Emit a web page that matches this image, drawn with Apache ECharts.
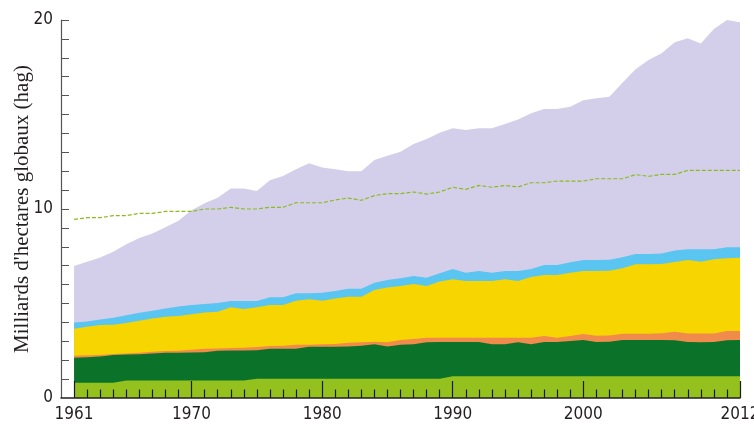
<!DOCTYPE html>
<html>
<head>
<meta charset="utf-8">
<script src="https://cdn.jsdelivr.net/npm/echarts@6/dist/echarts.min.js"></script>
<style>
  html, body { margin: 0; background: #fff; }
  #chart { width: 754px; height: 424px; }
</style>
</head>
<body>
<div id="chart"></div>
<script>
// années
const years = [1961,1962,1963,1964,1965,1966,1967,1968,1969,1970,
  1971,1972,1973,1974,1975,1976,1977,1978,1979,1980,
  1981,1982,1983,1984,1985,1986,1987,1988,1989,1990,
  1991,1992,1993,1994,1995,1996,1997,1998,1999,2000,
  2001,2002,2003,2004,2005,2006,2007,2008,2009,2010,
  2011,2012];

// bords supérieurs des couches (cumulés)
const vertClair = [0.81,0.81,0.81,0.81,0.92,0.92,0.92,0.92,0.92,0.92,
  0.92,0.92,0.92,0.92,1.02,1.02,1.02,1.02,1.02,1.02,
  1.02,1.02,1.02,1.02,1.02,1.02,1.02,1.02,1.02,1.15,
  1.15,1.15,1.15,1.15,1.15,1.15,1.15,1.15,1.15,1.15,
  1.15,1.15,1.15,1.15,1.15,1.15,1.15,1.15,1.15,1.15,
  1.15,1.15];
const vertFonce = [2.13,2.15,2.19,2.28,2.30,2.32,2.36,2.40,2.40,2.41,
  2.42,2.50,2.51,2.51,2.52,2.61,2.61,2.61,2.71,2.71,
  2.71,2.73,2.77,2.84,2.72,2.82,2.84,2.95,2.96,2.96,
  2.96,2.96,2.84,2.85,2.95,2.84,2.96,2.96,3.02,3.07,
  2.96,2.97,3.07,3.07,3.07,3.07,3.06,2.96,2.95,2.96,
  3.05,3.07];
const orange = [2.24,2.26,2.28,2.33,2.36,2.40,2.45,2.49,2.50,2.55,
  2.61,2.62,2.64,2.66,2.70,2.75,2.77,2.82,2.82,2.84,
  2.86,2.92,2.95,2.98,2.95,3.07,3.12,3.19,3.19,3.19,
  3.19,3.19,3.19,3.19,3.19,3.19,3.28,3.19,3.28,3.39,
  3.30,3.31,3.40,3.40,3.40,3.42,3.51,3.41,3.41,3.41,
  3.54,3.55];
const jaune = [3.67,3.77,3.86,3.88,3.97,4.09,4.20,4.30,4.34,4.43,
  4.53,4.57,4.80,4.71,4.80,4.92,4.92,5.15,5.22,5.15,
  5.27,5.36,5.36,5.71,5.84,5.93,6.03,5.93,6.16,6.28,
  6.19,6.19,6.19,6.28,6.19,6.40,6.51,6.51,6.63,6.72,
  6.72,6.73,6.86,7.08,7.08,7.09,7.20,7.30,7.21,7.34,
  7.40,7.42];
const bleu = [3.99,4.05,4.16,4.25,4.38,4.51,4.61,4.73,4.84,4.92,
  4.98,5.02,5.13,5.13,5.13,5.33,5.33,5.54,5.54,5.57,
  5.66,5.78,5.78,6.10,6.24,6.33,6.45,6.36,6.60,6.82,
  6.63,6.72,6.63,6.72,6.72,6.82,7.04,7.04,7.18,7.30,
  7.30,7.32,7.45,7.62,7.62,7.64,7.80,7.87,7.87,7.87,
  7.97,7.98];
const total = [6.98,7.21,7.44,7.74,8.13,8.47,8.71,9.03,9.38,9.93,
  10.30,10.60,11.08,11.08,10.95,11.52,11.75,12.10,12.42,12.20,
  12.10,12.00,12.00,12.59,12.82,13.03,13.44,13.70,14.04,14.27,
  14.18,14.27,14.27,14.50,14.73,15.06,15.29,15.29,15.41,15.75,
  15.86,15.94,16.68,17.39,17.88,18.24,18.82,19.03,18.76,19.52,
  20.00,19.88];
const biocapacite = [9.45,9.54,9.54,9.65,9.65,9.77,9.77,9.87,9.87,9.87,
  10.00,10.00,10.09,10.00,10.00,10.09,10.09,10.33,10.33,10.33,
  10.48,10.58,10.46,10.71,10.81,10.81,10.90,10.79,10.90,11.15,
  11.04,11.25,11.15,11.24,11.17,11.39,11.39,11.48,11.48,11.48,
  11.60,11.60,11.60,11.82,11.73,11.83,11.83,12.04,12.04,12.04,
  12.04,12.04];

const etiquettesX = [1961, 1970, 1980, 1990, 2000, 2012];
const etiquettesY = [0, 10, 20];

const police = "'Liberation Sans Narrow', 'DejaVu Sans Condensed', sans-serif";

function paires(vals) {
  return years.map((y, i) => [y, vals[i]]);
}

function couche(nom, vals, couleur) {
  return {
    name: nom,
    type: 'line',
    data: paires(vals),
    symbol: 'none',
    z: 1,
    lineStyle: { width: 0 },
    areaStyle: { color: couleur, opacity: 1 },
    silent: true
  };
}

// traits de graduation annuels, dessinés par-dessus la couche vert clair
const hautPetit = 0.45, hautGrand = 0.9;
const graduations = years.map(y => {
  const h = etiquettesX.includes(y) ? hautGrand : hautPetit;
  return [{ coord: [y, 0] }, { coord: [y, h] }];
});

const vertClairSerie = couche('Vert clair', vertClair, '#95c11f');
vertClairSerie.markLine = {
  silent: true,
  animation: false,
  symbol: ['none', 'none'],
  label: { show: false },
  lineStyle: { color: '#1a1a1a', width: 1.2, type: 'solid', opacity: 1 },
  emphasis: { disabled: true },
  data: graduations
};

const chart = echarts.init(document.getElementById('chart'));

chart.setOption({
  animation: false,
  backgroundColor: '#ffffff',
  grid: { left: 61, right: 14, top: 20, bottom: 26, containLabel: false, outerBoundsMode: 'none' },
  xAxis: {
    type: 'value',
    min: 1960, max: 2012, interval: 1,
    z: 10,
    axisLine: { show: true, onZero: false, lineStyle: { color: '#231f20', width: 1.5 } },
    axisTick: { show: false },
    axisLabel: {
      customValues: etiquettesX,
      formatter: v => String(v),
      color: '#231f20',
      fontFamily: police,
      fontSize: 17,
      margin: 8
    },
    splitLine: { show: false }
  },
  yAxis: {
    type: 'value',
    min: 0, max: 20, interval: 1,
    name: "Milliards d'hectares globaux (hag)",
    nameLocation: 'middle',
    nameGap: 28,
    nameMoveOverlap: false,
    nameTextStyle: { fontFamily: "'Liberation Serif', 'DejaVu Serif', serif", fontSize: 21, color: '#231f20' },
    z: 10,
    axisLine: { show: true, onZero: false, lineStyle: { color: '#555555', width: 1.2 } },
    axisTick: { show: true, inside: true, length: 8, lineStyle: { color: '#555555' } },
    axisLabel: {
      formatter: v => (etiquettesY.includes(v) ? String(v) : ''),
      color: '#231f20',
      fontFamily: police,
      fontSize: 17,
      margin: 8
    },
    splitLine: { show: false }
  },
  graphic: [{
    type: 'text',
    left: 318, top: 205,
    style: { text: 'Biocapacité mondiale', fill: '#231f20', font: "18px 'Liberation Sans Narrow', 'DejaVu Sans Condensed', sans-serif" }
  }],
  series: [
    couche('Total', total, '#d3cfea'),
    couche('Bleu', bleu, '#5bc5f1'),
    couche('Jaune', jaune, '#f7d500'),
    couche('Orange', orange, '#f08b4c'),
    couche('Vert foncé', vertFonce, '#0b7329'),
    vertClairSerie,
    {
      name: 'Biocapacité mondiale',
      type: 'line',
      data: paires(biocapacite),
      symbol: 'none',
      z: 5,
      lineStyle: { color: '#8dbb1e', width: 1.2, type: [4, 2] },
      silent: true
    }
  ]
});
</script>
</body>
</html>
